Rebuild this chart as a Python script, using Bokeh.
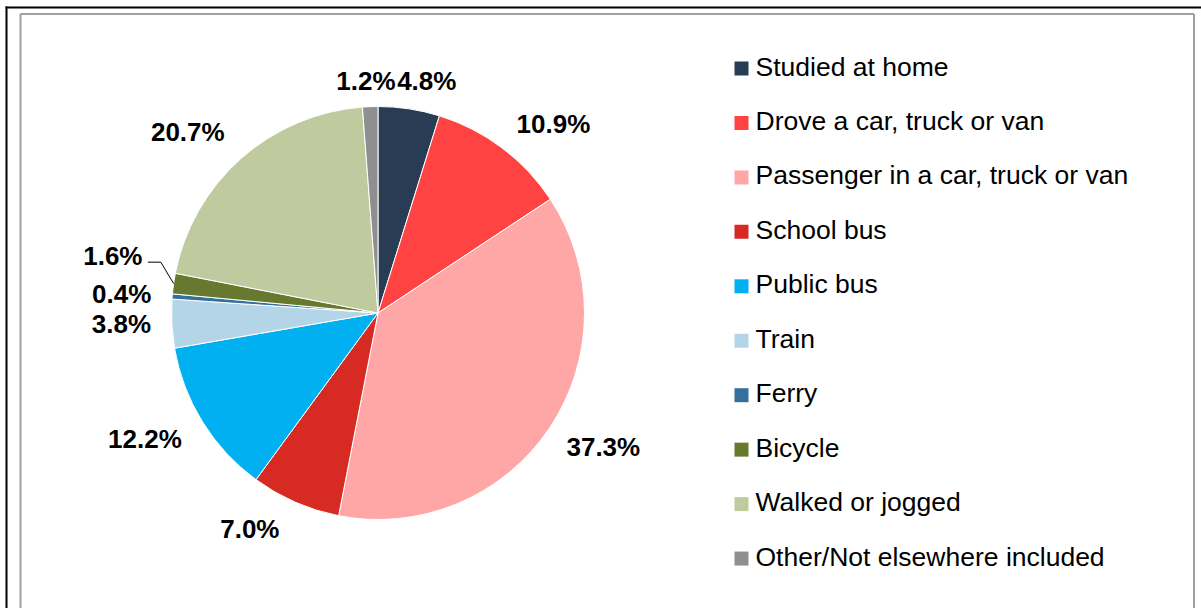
import math
from bokeh.plotting import figure
from bokeh.models import Range1d, ColumnDataSource
from bokeh.core.properties import value
from bokeh.embed import file_html
from bokeh.resources import INLINE

# ---- data ----
categories = [
    "Studied at home",
    "Drove a car, truck or van",
    "Passenger in a car, truck or van",
    "School bus",
    "Public bus",
    "Train",
    "Ferry",
    "Bicycle",
    "Walked or jogged",
    "Other/Not elsewhere included",
]
values = [4.8, 10.9, 37.3, 7.0, 12.2, 3.8, 0.4, 1.6, 20.7, 1.2]

# ---- style / layout ----
colors = ["#283C53", "#FF4242", "#FFA6A6", "#D62A23", "#00B0F0",
          "#B4D4E8", "#33709C", "#67792E", "#BFCA9F", "#8F8F8F"]
label_dist = [237.5, 258, 262, 251, 264.7, 256.8, 257, 271.2, 263, 233]
label_shift = [3.2, 5.9, -3.1, 7.1, 3.5, 0.6, -0.2, 3.9, -4.7, -0.8]
leader = [False, False, False, False, False, False, False, True, False, False]

W, H = 1201, 608
CX, CY, R = 377.5, 295.5, 206.5
FONT = value("Liberation Sans")
TXT_SHIFT = 9.0

p = figure(width=W, height=H, x_range=Range1d(0, W), y_range=Range1d(0, H),
           output_backend="svg", toolbar_location=None,
           x_axis_type=None, y_axis_type=None, min_border=0,
           outline_line_color=None, background_fill_color="white",
           border_fill_color="white")
for g in p.grid:
    g.visible = False

# frames
p.segment(x0=[6, 5], y0=[-10, 601], x1=[6, W + 10], y1=[602, 601],
          line_color="black", line_width=2)
p.segment(x0=[20, 20, 1193.5], y0=[-10, 594.5, 594.5],
          x1=[20, 1193.5, 1193.5], y1=[594.5, 594.5, -10],
          line_color="#A0A0A0", line_width=2)

# pie
total = sum(values)
starts, ends, mids = [], [], []
cum = 0.0
for v in values:
    a0 = cum / total * 360.0
    cum += v
    a1 = cum / total * 360.0
    # clockwise from top -> math angles
    starts.append(math.radians(90 - a1))
    ends.append(math.radians(90 - a0))
    mids.append((a0 + a1) / 2)

src = ColumnDataSource(dict(start=starts, end=ends, color=colors))
p.wedge(x=CX, y=CY, radius=R, start_angle="start", end_angle="end",
        fill_color="color", line_color="white", line_width=1, source=src)

# data labels
lx, ly, lt = [], [], []
for i, v in enumerate(values):
    th = math.radians(mids[i] + label_shift[i])
    x = CX + label_dist[i] * math.sin(th)
    y = CY + label_dist[i] * math.cos(th)
    lx.append(x)
    ly.append(y - 9.3 + TXT_SHIFT)
    lt.append(f"{v:.1f}%")
    if leader[i]:
        tm = math.radians(mids[i])
        px = CX + R * math.sin(tm)
        py = CY + R * math.cos(tm)
        p.line(x=[x + 35, x + 48, px], y=[y - 6, y - 6, py],
               line_color="black", line_width=1)
p.text(x=lx, y=ly, text=lt, text_align="center", text_baseline="alphabetic",
       text_font=FONT, text_font_size="26px", text_font_style="bold",
       text_color="black")

# legend
n = len(categories)
step = 54.45
sq_y = [540 - i * step for i in range(n)]
tx_y = [533 + TXT_SHIFT - i * step for i in range(n)]
p.rect(x=[741] * n, y=sq_y, width=14, height=14, fill_color=colors,
       line_color=None)
p.text(x=[755] * n, y=tx_y, text=categories, text_align="left",
       text_baseline="alphabetic", text_font=FONT, text_font_size="26.5px",
       text_color="black")

open("out.html", "w").write(file_html(p, INLINE))
